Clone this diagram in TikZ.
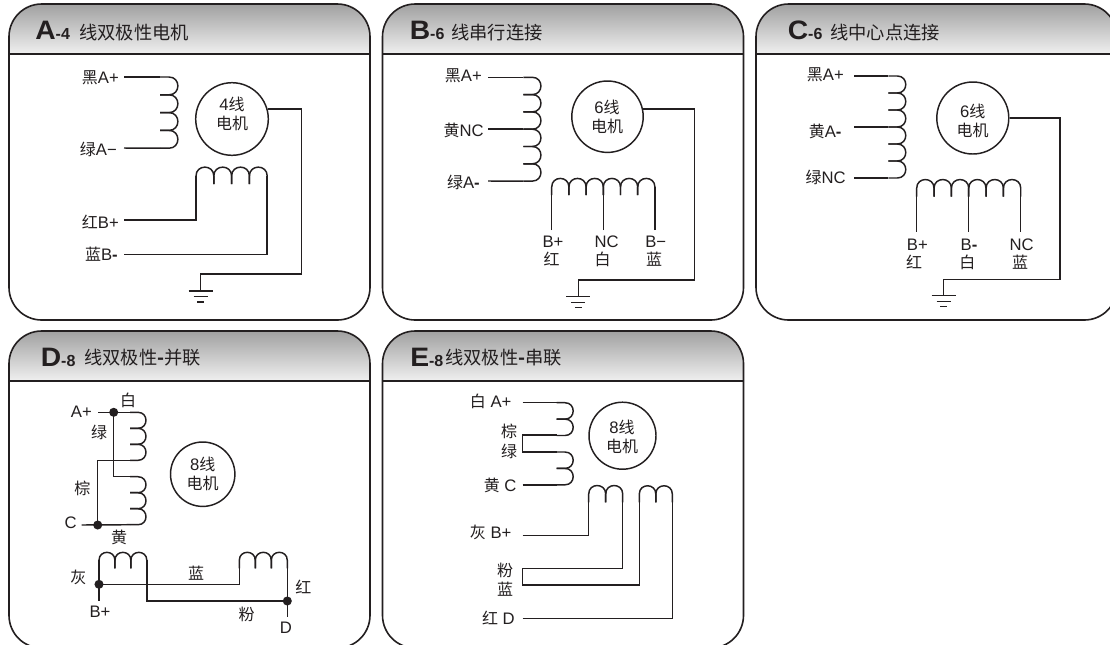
\documentclass[tikz,border=0pt]{standalone}
\usepackage{fontspec}
\setmainfont{Liberation Sans}
\newfontfamily\cjk{Noto Sans CJK SC}
\newcommand{\zh}[1]{{\cjk\fontsize{12}{14}\selectfont #1}}
\newcommand{\zhtitle}[1]{{\cjk\fontsize{13.7}{16}\selectfont #1}}
\definecolor{ink}{HTML}{231F20}
\tikzset{
  x=0.75pt,y=-0.75pt,
  wire/.style={draw=ink,line width=1.1pt,line join=miter},
  panelline/.style={draw=ink,line width=1.2pt},
  motor/.style={circle,draw=ink,line width=1.1pt,minimum size=#1*1.5pt,inner sep=0pt},
  motortext/.style={text=ink,align=center,font=\fontsize{12.5}{14.2}\selectfont,inner sep=0pt},
  lab/.style={text=ink,font=\fontsize{12.5}{14}\selectfont,inner sep=0pt},
  titletext/.style={text=ink,anchor=base west,inner sep=0pt},
  dotnode/.style={circle,fill=ink,minimum size=6.8pt,inner sep=0pt},
}
% panel: left, top, bottom, name, letter, small, title offset
\newcommand{\panel}[7]{%
  \pgfmathsetmacro{\pr}{#1+361}\pgfmathsetmacro{\ph}{#2+50}\pgfmathsetmacro{\tb}{#2+35}\pgfmathsetmacro{\tx}{#1+#7}%
  \begin{scope}
    \clip[rounded corners=24.5pt] (#1,#2) rectangle (\pr,#3);
    \shade[top color=black!37,bottom color=black!6] (#1,#2) rectangle (\pr,\ph);
  \end{scope}
  \draw[panelline,rounded corners=24.5pt] (#1,#2) rectangle (\pr,#3);
  \draw[panelline] (#1,\ph) -- (\pr,\ph);
  \node[titletext] (#4) at (\tx,\tb) {\fontsize{20}{21}\selectfont\bfseries\scalebox{1.06}[1]{#5}\fontsize{12}{13}\selectfont -#6};
}
% vertical coil bumps to the right: x-of-tail, y-top, count, radius, tail
\newcommand{\vcoil}[5]{%
  \foreach \ci in {1,...,#3}{%
    \pgfmathsetmacro{\cy}{#2+2*#4*(\ci-1)}%
    \draw[wire] (#1,\cy) -- ++(#5,0) .. controls +({1.33*#4},0) and +({1.33*#4},0) .. ++(0,{2*#4}) -- ++({-(#5)},0);
  }}
% horizontal coil bumps upward: x-left, y-tail-bottom, count, radius, tail
\newcommand{\hcoil}[5]{%
  \foreach \ci in {1,...,#3}{%
    \pgfmathsetmacro{\cx}{#1+2*#4*(\ci-1)}%
    \draw[wire] (\cx,#2) -- ++(0,{-(#5)}) .. controls +(0,{-1.33*#4}) and +(0,{-1.33*#4}) .. ++({2*#4},0) -- ++(0,#5);
  }}
% ground: name, x, y of first bar
\newcommand{\ground}[3]{%
  \pgfmathsetmacro{\gb}{#3}\pgfmathsetmacro{\gc}{#3+5.7}\pgfmathsetmacro{\gd}{#3+11}%
  \coordinate (#1) at (#2,#3);
  \draw[wire] (#2-12,\gb) -- (#2+12,\gb);
  \draw[wire] (#2-7,\gc) -- (#2+7,\gc);
  \draw[wire] (#2-3.5,\gd) -- (#2+3.5,\gd);
}
\begin{document}
\begin{tikzpicture}
\useasboundingbox (0,0) rectangle (1110,644);
\clip (0,0) rectangle (1110,644);
\fill[white] (0,0) rectangle (1110,644);

\panel{9}{4}{320}{ta}{A}{4}{26}
\panel{382.5}{4}{320}{tb}{B}{6}{27}
\panel{756}{4}{320}{tc}{C}{6}{31.5}
\panel{9}{331}{648}{td}{D}{8}{31.5}
\panel{382.5}{331}{648}{te}{E}{8}{27.5}
\node[titletext] (tax) at (79,39) {\zhtitle{线双极性电机}};
\node[titletext] (tbx) at (451,39) {\zhtitle{线串行连接}};
\node[titletext] (tcx) at (830,39) {\zhtitle{线中心点连接}};
\node[titletext] (tdx) at (84,364) {\zhtitle{线双极性\textbf{-}并联}};
\node[titletext] (tex) at (445,364) {\zhtitle{线双极性\textbf{-}串联}};

%%% Panel A
\node[motor=36.3] (ma) at (232,119) {};
\node[motortext] (mat) at (232,113.8) {4\zh{线}\\\zh{电机}};
\coordinate (a1) at (124,77); \coordinate (a2) at (124,148);
\coordinate (a3) at (124,220); \coordinate (a4) at (124,254.7);
\vcoil{160}{77}{4}{8.9}{9}
\draw[wire] (a1) -- (160,77);
\draw[wire] (a2) -- (160,148.2);
\hcoil{196}{184}{4}{8.9}{8}
\draw[wire] (a3) -| (196,176);
\draw[wire] (a4) -| (267.2,176);
\ground{ga}{200.7}{291}
\draw[wire] (ma.16) -| (301.7,274) -| (ga);
\node[lab,anchor=east] (la1) at (119,78) {\zh{黑}A+};
\node[lab,anchor=east] (la2) at (117,149) {\zh{绿}A−};
\node[lab,anchor=east] (la3) at (119,221.5) {\zh{红}B+};
\node[lab,anchor=east] (la4) at (118,254) {\zh{蓝}B\textbf{-}};

%%% Panel B
\node[motor=35.7] (mb) at (607.5,116.7) {};
\node[motortext] (mbt) at (607,117) {6\zh{线}\\\zh{电机}};
\coordinate (b1) at (488,77.3); \coordinate (b2) at (488,129.2); \coordinate (b3) at (488,181);
\vcoil{523.3}{77.3}{6}{8.65}{9}
\draw[wire] (b1) -- (523.3,77.3);
\draw[wire] (b2) -- (523.3,129.2);
\draw[wire] (b3) -- (523.3,181.1);
\hcoil{551.7}{195}{6}{8.6}{8}
\draw[wire] (551.7,230) -- (551.7,187);
\draw[wire] (603.3,230) -- (603.3,187);
\draw[wire] (654.9,230) -- (654.9,187);
\ground{gb}{578.3}{296.7}
\draw[wire] (mb.12) -| (694.3,280) -| (gb);
\node[lab,anchor=east] (lb1) at (482,76) {\zh{黑}A+};
\node[lab,anchor=east] (lb2) at (484,130) {\zh{黄}NC};
\node[lab,anchor=east] (lb3) at (480,182.7) {\zh{绿}A\textbf{-}};
\node[lab] (lb4) at (553,241.7) {B+};
\node[lab] (lb5) at (551.7,259.3) {\zh{红}};
\node[lab] (lb6) at (606.7,241.7) {NC};
\node[lab] (lb7) at (602.7,259.3) {\zh{白}};
\node[lab] (lb8) at (655.7,241.7) {B−};
\node[lab] (lb9) at (654,259.3) {\zh{蓝}};

%%% Panel C
\node[motor=36] (mc) at (972.8,118) {};
\node[motortext] (mct) at (972.7,121) {6\zh{线}\\\zh{电机}};
\coordinate (c1) at (854.3,76); \coordinate (c2) at (854.3,127); \coordinate (c3) at (854.3,178);
\vcoil{888.3}{76}{6}{8.5}{9}
\draw[wire] (c1) -- (888.3,76);
\draw[wire] (c2) -- (888.3,127);
\draw[wire] (c3) -- (888.3,178);
\hcoil{916.7}{196.7}{6}{8.67}{8.5}
\draw[wire] (916.7,231.7) -- (916.7,188);
\draw[wire] (968.7,231.7) -- (968.7,188);
\draw[wire] (1020.7,231.7) -- (1020.7,188);
\ground{gc}{943.5}{295.7}
\draw[wire] (mc.east) -| (1060,279.3) -| (gc);
\node[lab,anchor=east] (lc1) at (844,74.7) {\zh{黑}A+};
\node[lab,anchor=east] (lc2) at (841.7,131.7) {\zh{黄}A\textbf{-}};
\node[lab,anchor=east] (lc3) at (846,177.7) {\zh{绿}NC};
\node[lab] (lc4) at (917.3,245) {B+};
\node[lab] (lc5) at (914,262) {\zh{红}};
\node[lab] (lc6) at (969,245) {B\textbf{-}};
\node[lab] (lc7) at (967.3,262) {\zh{白}};
\node[lab] (lc8) at (1021.7,245) {NC};
\node[lab] (lc9) at (1020,262) {\zh{蓝}};

%%% Panel D
\node[motor=32.2] (md) at (202.7,474.2) {};
\node[motortext] (mdt) at (202.7,473.5) {8\zh{线}\\\zh{电机}};
\node[dotnode] (d1) at (113.7,412.3) {};
\node[dotnode] (d2) at (97.7,525) {};
\node[dotnode] (d3) at (99,584.3) {};
\node[dotnode] (d4) at (287.3,601) {};
\coordinate (dA) at (98.3,412.3); \coordinate (dC) at (81.7,525);
\coordinate (dB) at (99,600.7); \coordinate (dD) at (287.3,616.7);
\vcoil{130}{412.3}{3}{8}{8}
\vcoil{130}{476.7}{3}{8}{8}
\draw[wire] (dA) -- (130,412.3);
\draw[wire] (d1.center) |- (130,476.7);
\draw[wire] (130,460.3) -| (d2.center);
\draw[wire] (dC) -- (130,524.7);
\hcoil{99}{568.3}{3}{7.97}{8}
\hcoil{239.3}{568.3}{3}{8}{8}
\draw[wire] (dB) -- (99,560.3);
\draw[wire] (146.8,560.3) |- (d4.center);
\draw[wire] (d3.center) -| (239.3,560.3);
\draw[wire] (287.3,560.3) -- (dD);
\node[lab,anchor=east] (ld1) at (92,411.7) {A+};
\node[lab] (ld2) at (128,400) {\zh{白}};
\node[lab] (ld3) at (99,432.7) {\zh{绿}};
\node[lab] (ld4) at (82.3,488.3) {\zh{棕}};
\node[lab] (ld5) at (70.7,522.7) {C};
\node[lab] (ld6) at (119,537.3) {\zh{黄}};
\node[lab] (ld7) at (78.3,577.3) {\zh{灰}};
\node[lab] (ld8) at (100,611.7) {B+};
\node[lab] (ld9) at (196,573.3) {\zh{蓝}};
\node[lab] (ld10) at (303.3,586.7) {\zh{红}};
\node[lab] (ld11) at (246.7,614.3) {\zh{粉}};
\node[lab] (ld12) at (286,627.7) {D};

%%% Panel E
\node[motor=33.5] (me) at (622.5,435.7) {};
\node[motortext] (met) at (622,436.5) {8\zh{线}\\\zh{电机}};
\coordinate (e1) at (522.7,402.7); \coordinate (e2) at (522.7,485);
\coordinate (e3) at (522.7,535.7); \coordinate (e4) at (522.7,568.3);
\coordinate (e5) at (522.7,585); \coordinate (e6) at (522.7,618.3);
\vcoil{556.7}{402.7}{2}{8.2}{8.3}
\vcoil{556.7}{452}{2}{8.2}{8.3}
\draw[wire] (e1) -- (556.7,402.7);
\draw[wire] (556.7,435.1) -- (522.7,435.1) -- (522.7,452) -- (556.7,452);
\draw[wire] (e2) -- (556.7,485);
\hcoil{588.7}{502.3}{2}{8.5}{8.3}
\hcoil{639.3}{502.3}{2}{8.25}{8.3}
\draw[wire] (e3) -| (588.7,494);
\draw[wire] (622.7,494) |- (e4) -- (e5) -| (639.3,494);
\draw[wire] (e6) -| (672.3,494);
\node[lab,anchor=east] (le1) at (511.7,401.7) {\zh{白} A+};
\node[lab] (le2) at (509,431.7) {\zh{棕}};
\node[lab] (le3) at (509,451) {\zh{绿}};
\node[lab,anchor=east] (le4) at (516.7,485) {\zh{黄} C};
\node[lab,anchor=east] (le5) at (511.7,532.3) {\zh{灰} B+};
\node[lab] (le6) at (505,570) {\zh{粉}};
\node[lab] (le7) at (505,589) {\zh{蓝}};
\node[lab,anchor=east] (le8) at (515,618.3) {\zh{红} D};
\end{tikzpicture}
\end{document}
